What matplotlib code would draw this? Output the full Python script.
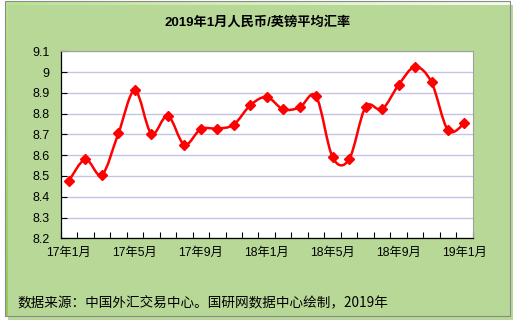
import matplotlib
matplotlib.use("Agg")
import matplotlib.pyplot as plt
import numpy as np
from matplotlib.path import Path
from matplotlib.patches import PathPatch, Rectangle

plt.rcParams["font.family"] = ["Liberation Sans", "Noto Sans CJK SC", "DejaVu Sans"]

# monthly average CNY per GBP, Jan 2017 .. Jan 2019
months = ["17年1月", "17年2月", "17年3月", "17年4月", "17年5月", "17年6月", "17年7月",
          "17年8月", "17年9月", "17年10月", "17年11月", "17年12月", "18年1月",
          "18年2月", "18年3月", "18年4月", "18年5月", "18年6月", "18年7月",
          "18年8月", "18年9月", "18年10月", "18年11月", "18年12月", "19年1月"]
rates = [8.477, 8.580, 8.505, 8.705, 8.912, 8.704, 8.790, 8.651, 8.726, 8.728,
         8.747, 8.840, 8.880, 8.821, 8.830, 8.883, 8.590, 8.580, 8.832, 8.821,
         8.938, 9.025, 8.951, 8.720, 8.753]
y_ticks = [8.2, 8.3, 8.4, 8.5, 8.6, 8.7, 8.8, 8.9, 9.0, 9.1]
y_tick_labels = ["8.2", "8.3", "8.4", "8.5", "8.6", "8.7", "8.8", "8.9", "9", "9.1"]

W, H = 516, 328
fig = plt.figure(figsize=(W / 100, H / 100), dpi=100)

# background panel with diagonal green gradient
bg = fig.add_axes([0, 0, 1, 1])
bg.set_xlim(0, W)
bg.set_ylim(H, 0)
bg.axis("off")
px0, px1, py0, py1 = 5, 510, 1, 316
bg.add_patch(Rectangle((px0 + 3, py0 + 4), px1 - px0, py1 - py0, color="#b8d898", lw=0))
tl = np.array([186, 226, 146]) / 255
tr = np.array([244, 250, 238]) / 255
bl = np.array([146, 204, 84]) / 255
br = np.array([212, 235, 190]) / 255
u = np.linspace(0, 1, 200)[None, :, None]
v = np.linspace(0, 1, 120)[:, None, None]
grad = (1 - v) * ((1 - u) * tl + u * tr) + v * ((1 - u) * bl + u * br)
bg.imshow(grad, extent=(px0, px1, py1, py0), aspect="auto", interpolation="bilinear")
bg.add_patch(Rectangle((px0, py0), px1 - px0, py1 - py0, fill=False, ec="#8a8a8a", lw=0.8))

bg.text(258, 22, "2019年1月人民币/英镑平均汇率", ha="center", va="center",
        fontsize=9.5, fontweight="bold", family=["Liberation Sans", "Noto Sans CJK SC"])
bg.text(17, 302, "数据来源：中国外汇交易中心。国研网数据中心绘制，2019年", ha="left",
        va="center", fontsize=9.8, family=["Noto Sans CJK SC", "DejaVu Sans"])

# plot area
left, right, top, bottom = 60.7, 472.7, 51.3, 238.3
ax = fig.add_axes([left / W, 1 - bottom / H, (right - left) / W, (bottom - top) / H])
ax.set_facecolor("white")
n = len(rates)
ax.set_xlim(0, n)
ax.set_ylim(8.2, 9.1)
ax.set_yticks(y_ticks)
ax.set_yticklabels(y_tick_labels)
ax.yaxis.grid(True, color="#c4c4e4", lw=1)
ax.set_axisbelow(True)

label_pos = np.arange(0, n, 4) + 0.5
ax.set_xticks(label_pos)
ax.set_xticklabels([months[i] for i in range(0, n, 4)],
                   family=["Liberation Sans", "Noto Sans CJK SC"])
ax.set_xticks(np.arange(n + 1), minor=True)
ax.tick_params(axis="x", which="major", length=0, pad=6, labelsize=8.8)
ax.tick_params(axis="x", which="minor", direction="in", length=4, width=0.8)
ax.tick_params(axis="y", direction="in", length=4, width=0.8, pad=8, labelsize=9)
for s in ("left", "bottom"):
    ax.spines[s].set_color("black")
    ax.spines[s].set_linewidth(0.9)
for s in ("top", "right"):
    ax.spines[s].set_color("#a0a0a0")
    ax.spines[s].set_linewidth(0.8)

# smoothed line (Catmull-Rom style Bezier, like a spreadsheet smooth line)
xs = np.arange(n) + 0.5
pts = np.column_stack([xs, rates])
ext = np.vstack([pts[0], pts, pts[-1]])
verts = [pts[0]]
codes = [Path.MOVETO]
for i in range(n - 1):
    p0, p1, p2, p3 = ext[i], ext[i + 1], ext[i + 2], ext[i + 3]
    verts += [p1 + (p2 - p0) / 6, p2 - (p3 - p1) / 6, p2]
    codes += [Path.CURVE4] * 3
ax.add_patch(PathPatch(Path(verts, codes), fill=False, ec="#ff0000", lw=1.8, zorder=3))
ax.plot(xs, rates, ls="none", marker="D", ms=5.5, color="#ff0000", zorder=4)

fig.savefig("out.png", dpi=100)
